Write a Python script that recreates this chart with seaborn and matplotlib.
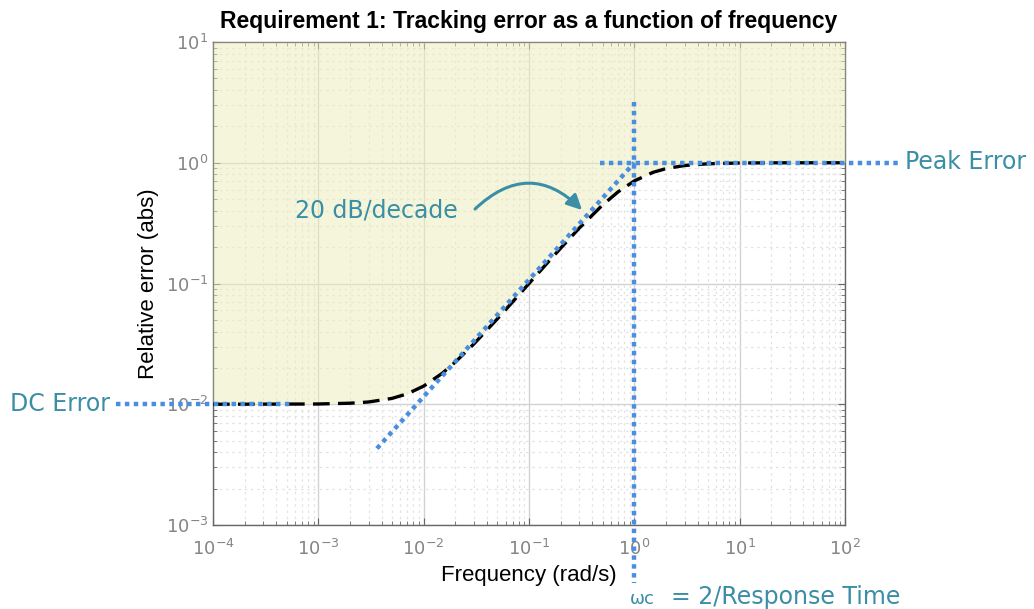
import numpy as np
import pandas as pd
import matplotlib
matplotlib.use("Agg")
import matplotlib.pyplot as plt
from matplotlib.patches import FancyArrowPatch
import seaborn as sns

# Tracking error bound vs. frequency
freq = [1e-4, 1e-3, 2e-3, 3e-3, 5e-3, 7e-3, 0.01, 0.015, 0.02, 0.03, 0.05, 0.07,
        0.1, 0.15, 0.2, 0.3, 0.5, 0.7, 1.0, 1.5, 2.0, 3.0, 5.0, 10.0, 20.0, 100.0]
rel_error = [0.0100, 0.01005, 0.0102, 0.01044, 0.01118, 0.0122, 0.01414, 0.01803,
             0.02236, 0.0316, 0.0509, 0.0705, 0.1000, 0.1487, 0.1963, 0.2875,
             0.4473, 0.5735, 0.7071, 0.832, 0.8945, 0.9487, 0.9806, 0.995, 0.9988, 1.0]

# Guide lines
slope_x = [0.0036, 1.0]
slope_y = [0.0043, 1.0]
dc_x = [1.2e-5, 5.8e-4]
dc_y = [0.01, 0.01]
peak_x = [0.47, 330.0]
peak_y = [1.0, 1.0]
wc_x = [1.0, 1.0]
wc_y = [3.2, 3.3e-4]

x_ticks = [1e-4, 1e-3, 1e-2, 1e-1, 1e0, 1e1, 1e2]
y_ticks = [1e-3, 1e-2, 1e-1, 1e0, 1e1]

df = pd.DataFrame({"freq": freq, "err": rel_error})

W, H = 1034, 609
fig = plt.figure(figsize=(W / 100, H / 100), dpi=100)
ax = fig.add_axes([213 / W, 1 - 525 / H, 632 / W, 483 / H])
ax.set_xscale("log")
ax.set_yscale("log")
ax.set_xlim(1e-4, 1e2)
ax.set_ylim(1e-3, 1e1)

blue = "#4a8ee0"
teal = "#3a8ea5"
gray = "#666666"

# Grid
ax.grid(True, which="major", color="#d2d2d2", lw=1.0, ls="-", zorder=0.5)
ax.grid(True, which="minor", color="#e3e3e3", lw=0.9, ls=(0, (2, 3)), zorder=0.5)

# Forbidden region above the bound
ax.fill_between(df["freq"], df["err"], 10, color="#ededba", alpha=0.5, lw=0, zorder=3)

# Bound curve
sns.lineplot(data=df, x="freq", y="err", ax=ax, color="black", lw=2.4,
             linestyle=(0, (5, 2.5)), zorder=4)

dot = (0, (1, 1))
ax.plot(slope_x, slope_y, color=blue, lw=3.2, ls=dot, zorder=5)
ax.plot(dc_x, dc_y, color=blue, lw=3.2, ls=dot, zorder=5, clip_on=False)
ax.plot(peak_x, peak_y, color=blue, lw=3.2, ls=dot, zorder=5, clip_on=False)
ax.plot(wc_x, wc_y, color=blue, lw=3.2, ls=dot, zorder=5, clip_on=False)

# Ticks and frame
ax.set_xticks(x_ticks)
ax.set_yticks(y_ticks)
ax.tick_params(which="both", direction="in", top=True, right=True, color=gray,
               labelcolor="#858585", labelsize=13)
ax.tick_params(which="major", length=5)
ax.tick_params(which="minor", length=3)
ax.tick_params(axis="x", which="major", pad=10)
for s in ax.spines.values():
    s.set_color(gray)
    s.set_linewidth(1.0)

ax.set_xlabel("Frequency (rad/s)", fontsize=16, family="Liberation Sans", labelpad=4)
ax.set_ylabel("Relative error (abs)", fontsize=16, family="Liberation Sans", labelpad=5)
ax.set_title("Requirement 1: Tracking error as a function of frequency",
             fontsize=16.5, fontweight="bold", family="Liberation Sans", pad=10)

# Annotations
fig.text(10 / W, 1 - 404 / H, "DC Error", color=teal, fontsize=17, va="center", ha="left")
fig.text(905 / W, 1 - 162 / H, "Peak Error", color=teal, fontsize=17, va="center", ha="left")
fig.text(295 / W, 1 - 211 / H, "20 dB/decade", color=teal, fontsize=17, va="center", ha="left")
fig.text(630 / W, 1 - 604 / H, "\u03c9c", color=teal, fontsize=13, va="baseline", ha="left")
fig.text(671 / W, 1 - 604 / H, "= 2/Response Time", color=teal, fontsize=17,
         va="baseline", ha="left")

arrow = FancyArrowPatch((473, H - 211), (584, H - 212), transform=None,
                        connectionstyle="arc3,rad=-0.5", arrowstyle="-|>,head_length=6,head_width=3",
                        color=teal, lw=2.2, mutation_scale=1.5)
fig.patches.append(arrow)

fig.savefig("out.png", dpi=100)
